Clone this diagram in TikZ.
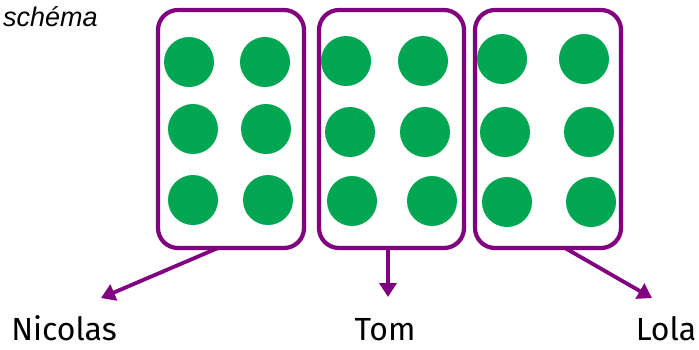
\documentclass[tikz,border=0pt]{standalone}
\usepackage{fontspec}
\setmainfont{Fira Sans}
\newfontfamily\schemafont{Liberation Sans}
\usetikzlibrary{arrows.meta}
\definecolor{boxpurple}{RGB}{128,0,128}
\definecolor{dotgreen}{RGB}{0,166,81}
\tikzset{
	groupbox/.style={draw=boxpurple, line width=4.2pt, rounded corners=20pt},
	dot/.style={fill=dotgreen},
	share/.style={draw=boxpurple, line width=3.8pt, -{Triangle[length=14pt,width=17pt]}},
	personlabel/.style={font=\fontsize{32}{36}\selectfont, anchor=base, inner sep=0pt, text depth=0pt}
}

\begin{document}
\begin{tikzpicture}[x=1pt,y=-1pt]
		\useasboundingbox (0,0) rectangle (699,349);
		%\draw[help lines] (0,0) grid (699,349);
		\node[font=\schemafont\itshape\fontsize{27}{30}\selectfont, anchor=base west, inner sep=0pt] (title) at (3,26) {schéma};
		
		\draw[groupbox] (158,10) rectangle (304,248);%first box
		\draw[groupbox] (319,10) rectangle (464,248);%second box
		\draw[groupbox] (475,10) rectangle (621,248);%third box
		\coordinate (nicolas box) at (218,248);
		\coordinate (tom box) at (388,248);
		\coordinate (lola box) at (565,248);
		
		\fill[dot] (189,62) circle (25);%first box
		\fill[dot] (265,62) circle (25);
		\fill[dot] (193,129) circle (25);
		\fill[dot] (266,129) circle (25);
		\fill[dot] (193,200) circle (25);
		\fill[dot] (268,200) circle (25);
		
		\fill[dot] (346,61) circle (25);%second box
		\fill[dot] (423,61) circle (25);
		\fill[dot] (350,132) circle (25);
		\fill[dot] (425,132) circle (25);
		\fill[dot] (352,201) circle (25);
		\fill[dot] (432,201) circle (25);
		
		\fill[dot] (502,59) circle (25);%third box
		\fill[dot] (584,59) circle (25);
		\fill[dot] (505,132) circle (25);
		\fill[dot] (589,132) circle (25);
		\fill[dot] (507,202) circle (25);
		\fill[dot] (591,202) circle (25);
		
		\node[personlabel] (nicolas) at (64,340) {Nicolas};
		\node[personlabel] (tom) at (385,340) {Tom};
		\node[personlabel] (lola) at (666,340) {Lola};
		\coordinate (nicolas tip) at (101,298);
		\coordinate (tom tip) at (388,297);
		\coordinate (lola tip) at (652,298);
		
		\draw[share] (nicolas box) -- (nicolas tip);
		\draw[share] (tom box) -- (tom tip);
		\draw[share] (lola box) -- (lola tip);
\end{tikzpicture}
\end{document}
